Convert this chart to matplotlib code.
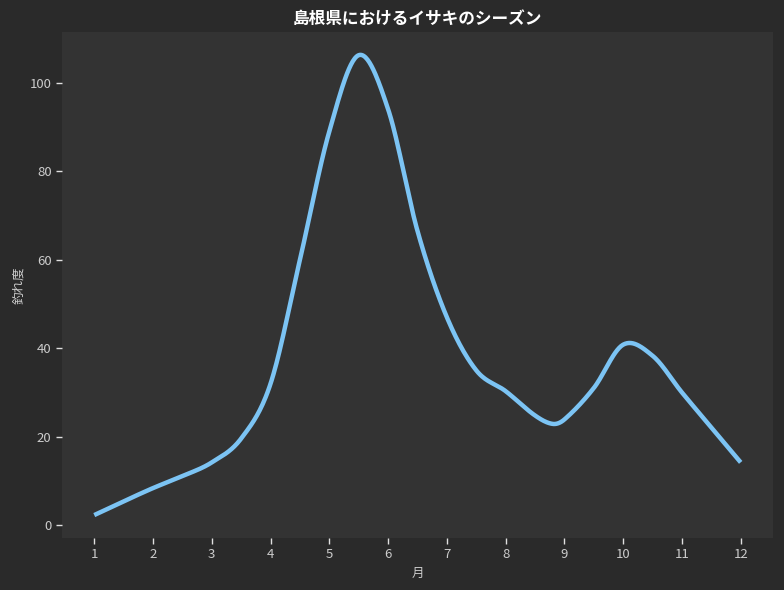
import numpy as np
import matplotlib
matplotlib.use("Agg")
import matplotlib.pyplot as plt

plt.rcParams['font.family'] = ['Noto Sans CJK JP', 'DejaVu Sans']

# half-month sample points
months = [1, 1.5, 2, 2.5, 3, 3.5, 4, 4.5, 5, 5.5, 6, 6.5, 7, 7.5, 8, 8.5,
          8.8, 9, 9.5, 10, 10.5, 11, 11.5, 12]
catch = [2.3, 5.4, 8.4, 11.1, 14.2, 19.6, 32.0, 60.0, 89.0, 106.2, 94.0, 66.5,
         47.0, 35.0, 30.3, 24.8, 22.9, 23.9, 31.0, 40.8, 38.3, 30.0, 22.1, 14.2]
xticks = list(range(1, 13))
title = "島根県におけるイサキのシーズン"
xlabel = "月"
ylabel = "釣れ度"


def catmull_rom(x, y, n=30):
    x = np.asarray(x, float)
    y = np.asarray(y, float)
    px = np.concatenate([[2 * x[0] - x[1]], x, [2 * x[-1] - x[-2]]])
    py = np.concatenate([[2 * y[0] - y[1]], y, [2 * y[-1] - y[-2]]])
    xs, ys = [], []
    for i in range(1, len(px) - 2):
        t = np.linspace(0, 1, n, endpoint=False)
        x0, x1, x2, x3 = px[i - 1:i + 3]
        y0, y1, y2, y3 = py[i - 1:i + 3]
        h = x2 - x1
        m1 = (y2 - y0) / (x2 - x0) * h
        m2 = (y3 - y1) / (x3 - x1) * h
        h00 = 2 * t**3 - 3 * t**2 + 1
        h10 = t**3 - 2 * t**2 + t
        h01 = -2 * t**3 + 3 * t**2
        h11 = t**3 - t**2
        xs.append(x1 + t * h)
        ys.append(h00 * y1 + h10 * m1 + h01 * y2 + h11 * m2)
    xs.append([x[-1]])
    ys.append([y[-1]])
    return np.concatenate(xs), np.concatenate(ys)


fig_bg = "#2a2a2a"
ax_bg = "#333333"
text_c = "#cccccc"

fig, ax = plt.subplots(figsize=(7.84, 5.9), dpi=100)
fig.patch.set_facecolor(fig_bg)
ax.set_facecolor(ax_bg)
fig.subplots_adjust(left=0.079, right=0.986, top=0.946, bottom=0.088)

sx, sy = catmull_rom(months, catch)
ax.plot(sx, sy, color="#7cc4f4", linewidth=3.2, solid_capstyle="butt")

ax.set_xticks(xticks)
ax.set_xticklabels([str(m) for m in xticks])
ax.set_yticks([0, 20, 40, 60, 80, 100])
for s in ax.spines.values():
    s.set_visible(False)
ax.tick_params(colors=text_c, labelsize=9.5, length=4, width=1)
ax.tick_params(axis='both', color="#e0e0e0")

ax.set_title(title, color="white", fontsize=12, fontweight="bold", pad=6)
ax.set_xlabel(xlabel, color=text_c, fontsize=9, labelpad=4)
ax.set_ylabel(ylabel, color=text_c, fontsize=9, labelpad=3)

fig.savefig("out.png", dpi=100, facecolor=fig_bg)
